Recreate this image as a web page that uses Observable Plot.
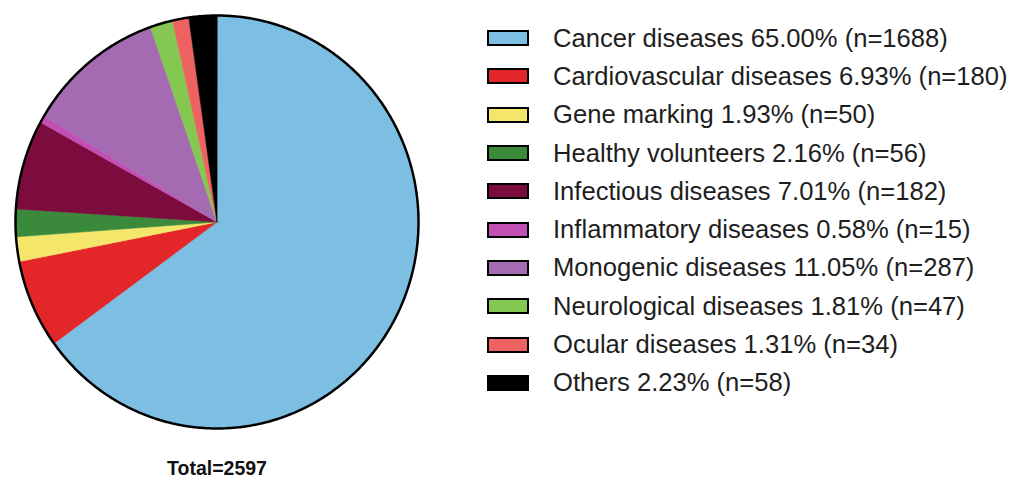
<!DOCTYPE html>
<html>
<head>
<meta charset="utf-8">
<script src="https://cdn.jsdelivr.net/npm/d3@7"></script>
<script src="https://cdn.jsdelivr.net/npm/@observablehq/plot@0.6"></script>
<style>
  html, body { margin: 0; padding: 0; background: #fff; }
  #wrap { position: relative; width: 1014px; height: 478px; overflow: hidden; font-family: "Liberation Sans", Arial, sans-serif; }
  #chart { position: absolute; left: 0; top: 0; }
  #legend { position: absolute; left: 487px; top: 19px; }
  .row { display: flex; align-items: center; height: 38.3px; }
  .sw { width: 38px; height: 12px; border: 2.5px solid #000; box-sizing: content-box; margin-right: 24px; }
  .lbl { font-size: 25.6px; color: #1e1e1e; white-space: nowrap; }
</style>
</head>
<body>
<div id="wrap">
  <div id="chart"></div>
  <div id="legend"></div>
</div>
<script>
const categories = ["Cancer diseases", "Cardiovascular diseases", "Gene marking", "Healthy volunteers", "Infectious diseases", "Inflammatory diseases", "Monogenic diseases", "Neurological diseases", "Ocular diseases", "Others"];
const counts = [1688, 180, 50, 56, 182, 15, 287, 47, 34, 58];
const percents = ["65.00%", "6.93%", "1.93%", "2.16%", "7.01%", "0.58%", "11.05%", "1.81%", "1.31%", "2.23%"];
const colors = ["#7dbfe2", "#e3262a", "#f3e66a", "#3b8a3c", "#7b0c3d", "#c24fb3", "#a46bb3", "#84c852", "#ef6262", "#000000"];
const totalLabel = "Total=2597";

const arcs = d3.pie().sort(null).value(d => d)(counts);
const slices = [];
arcs.forEach((a, i) => {
  const name = categories[i];
  slices.push({name, x: 0, y: 0});
  const n = Math.max(2, Math.ceil((a.endAngle - a.startAngle) / (Math.PI / 360)));
  for (let k = 0; k <= n; k++) {
    const t = a.startAngle + (a.endAngle - a.startAngle) * k / n;
    slices.push({name, x: Math.sin(t), y: Math.cos(t)});
  }
});
const outline = d3.range(0, 721).map(k => {
  const t = k / 720 * 2 * Math.PI;
  return {x: Math.sin(t), y: Math.cos(t)};
});

const plot = Plot.plot({
  width: 1014,
  height: 478,
  marginLeft: 15,
  marginRight: 596,
  marginTop: 15,
  marginBottom: 50,
  x: {domain: [-1, 1], axis: null},
  y: {domain: [-1, 1], axis: null},
  color: {domain: categories, range: colors},
  style: {background: "#fff", fontFamily: "Liberation Sans, Arial, sans-serif"},
  marks: [
    Plot.line(slices, {x: "x", y: "y", z: "name", fill: "name", stroke: "name", strokeWidth: 0.6, curve: "linear-closed"}),
    Plot.line(outline, {x: "x", y: "y", stroke: "#000", strokeWidth: 2.5, curve: "linear-closed", fill: "none"}),
    Plot.text([totalLabel], {x: [0], y: [-1], text: d => d, dy: 40, fontSize: 19.5, fontWeight: "bold", fill: "#111"})
  ]
});
document.getElementById("chart").appendChild(plot);

const legend = d3.select("#legend");
categories.forEach((c, i) => {
  const row = legend.append("div").attr("class", "row");
  row.append("div").attr("class", "sw").style("background", colors[i]);
  row.append("div").attr("class", "lbl").text(`${c} ${percents[i]} (n=${counts[i]})`);
});
</script>
</body>
</html>
